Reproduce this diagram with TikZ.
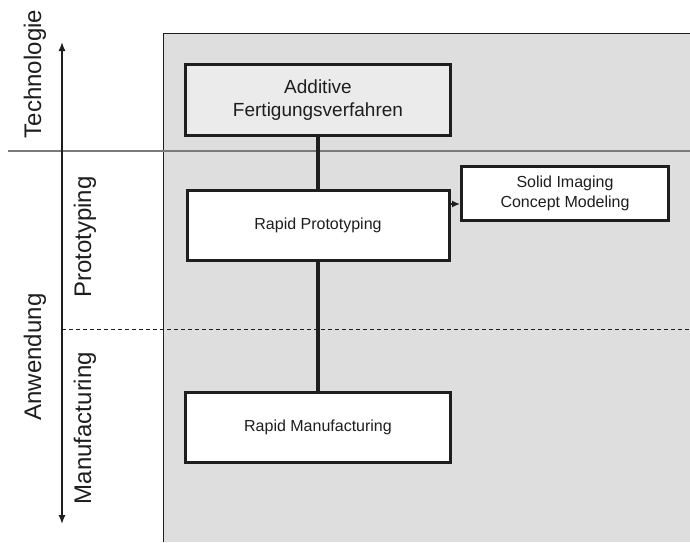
\documentclass[tikz,border=0pt]{standalone}
\usepackage{xcolor}
\usepackage{fontspec}
\setmainfont{Liberation Sans}
\usepackage{tikz}
\usetikzlibrary{positioning,arrows.meta}
\definecolor{panelgray}{HTML}{DEDEDE}
\definecolor{boxgray}{HTML}{EBEBEB}
\definecolor{linegray}{HTML}{7A7A7A}
\definecolor{ink}{HTML}{1E1E1E}
\tikzstyle{boxed} = [rectangle, draw=ink, line width=3pt, fill=white, text=ink, align=center, inner sep=0pt]
\tikzstyle{axislabel} = [rotate=90, text=ink, font=\fontsize{24}{28}\selectfont, inner sep=0pt]
\tikzstyle{link} = [draw=ink, line width=3.5pt]
\tikzstyle{connect1} = [draw=ink, line width=1.5pt, -{Latex[length=8pt,width=7pt]}]
\tikzstyle{connect2} = [draw=ink, line width=1.4pt, {Latex[length=9pt,width=7pt]}-{Latex[length=9pt,width=7pt]}]

\begin{document}
\begin{tikzpicture}[x=1pt, y=-1pt, node distance=54pt]
			\useasboundingbox (0,0) rectangle (690,542);
			% Hintergrund
			\fill[panelgray] (163,33) rectangle (690,542);
			\draw[ink, line width=1pt] (163,542) -- (163,33) -- (690,33);
			\draw[linegray, line width=1.3pt] (8,151) -- (690,151);
			\draw[ink, line width=0.8pt, dash pattern=on 4pt off 3pt] (62,329) -- (690,329);

			% Achse links
			\coordinate (top) at (62,42);
			\coordinate (bottom) at (62,524);
			\draw [connect2] (bottom) -- (top);
			\node (tech) [axislabel] at (35,74) {Technologie};
			\node (anw) [axislabel] at (35,357) {Anwendung};
			\node (proto) [axislabel] at (85,237) {Prototyping};
			\node (manu) [axislabel] at (85,428) {Manufacturing};

			% Boxen
			\node (add) [boxed, fill=boxgray, minimum width=265pt, minimum height=71pt, font=\fontsize{19}{23}\selectfont] at (318,100) {Additive\\Fertigungsverfahren}; % oben
			\node (rp) [boxed, minimum width=262pt, minimum height=70pt, font=\fontsize{16}{20}\selectfont, below=52pt of add] {Rapid Prototyping};     % unter add
			\node (rm) [boxed, minimum width=265pt, minimum height=70pt, font=\fontsize{16}{20}\selectfont, below=129pt of rp] {Rapid Manufacturing}; % unter rp
			\node (solid) [boxed, minimum width=207pt, minimum height=54pt, font=\fontsize{16}{20}\selectfont] at (565,193) {Solid Imaging\\Concept Modeling};

			% Verbindungen
			\draw [link] (add) -- (rp);
			\draw [link] (rp) -- (rm);
			\draw [connect1] ([yshift=-15pt]rp.north east) -- ([yshift=-15pt]rp.north east -| solid.west);
		\end{tikzpicture}
\end{document}
